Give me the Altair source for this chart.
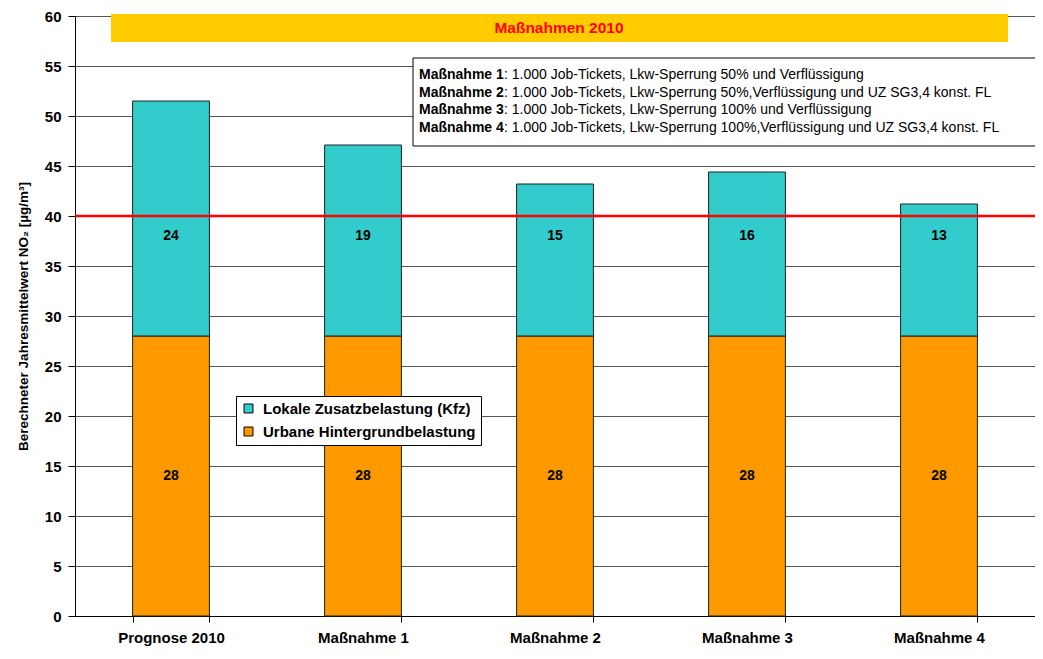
import altair as alt
import pandas as pd

categories = ["Prognose 2010", "Maßnahme 1", "Maßnahme 2", "Maßnahme 3", "Maßnahme 4"]
urbane = [28, 28, 28, 28, 28]
lokale = [23.5, 19.1, 15.2, 16.4, 13.2]
series_names = ["Lokale Zusatzbelastung (Kfz)", "Urbane Hintergrundbelastung"]
series_colors = ["#33CCCC", "#FF9900"]
y_ticks = [0, 5, 10, 15, 20, 25, 30, 35, 40, 45, 50, 55, 60]
limit_value = [40]
banner_title = ["Maßnahmen 2010"]
note_heads = ["Maßnahme 1", "Maßnahme 2", "Maßnahme 3", "Maßnahme 4"]
note_texts = [
    ": 1.000 Job-Tickets, Lkw-Sperrung 50% und Verflüssigung",
    ": 1.000 Job-Tickets, Lkw-Sperrung 50%,Verflüssigung und UZ SG3,4 konst. FL",
    ": 1.000 Job-Tickets, Lkw-Sperrung 100% und Verflüssigung",
    ": 1.000 Job-Tickets, Lkw-Sperrung 100%,Verflüssigung und UZ SG3,4 konst. FL",
]

FONT = "Liberation Sans"

rows = []
for c, u, l in zip(categories, urbane, lokale):
    rows.append({"category": c, "series": series_names[1], "value": u, "ord": 0})
    rows.append({"category": c, "series": series_names[0], "value": l, "ord": 1})
bars_df = pd.DataFrame(rows)

lab_u = pd.DataFrame({"category": categories, "mid": [u / 2 for u in urbane],
                      "label": [f"{u:.0f}" for u in urbane]})
lab_l = pd.DataFrame({"category": categories, "label": [f"{l:.0f}" for l in lokale]})

x_enc = alt.X("category:N", sort=categories,
              scale=alt.Scale(paddingInner=0.6, paddingOuter=0.3),
              axis=alt.Axis(title=None, labelAngle=0, tickBand="extent",
                            labelFontSize=15, labelFontWeight="bold", labelColor="black",
                            labelFont=FONT, domainColor="black", tickColor="black",
                            tickSize=6, labelPadding=8, grid=False))
y_scale = alt.Scale(domain=[0, 60], nice=False)

bars = alt.Chart(bars_df).mark_bar(stroke="#222222", strokeWidth=1).encode(
    x=x_enc,
    y=alt.Y("value:Q", stack="zero", scale=y_scale,
            axis=alt.Axis(values=y_ticks, title="Berechneter Jahresmittelwert NO₂ [µg/m³]",
                          titleFontSize=13.5, titleFontWeight="bold", titleFont=FONT,
                          titleColor="black", titlePadding=14,
                          labelFontSize=15, labelFontWeight="bold", labelFont=FONT,
                          labelColor="black", labelPadding=7, tickSize=7,
                          tickColor="black", domainColor="black",
                          grid=True, gridColor="#555555", gridWidth=1)),
    color=alt.Color("series:N", scale=alt.Scale(domain=series_names, range=series_colors),
                    legend=alt.Legend(orient="none", legendX=161, legendY=380, title=None,
                                      fillColor="white", strokeColor="black", padding=5,
                                      symbolType="square", symbolSize=80,
                                      symbolStrokeColor="black", symbolStrokeWidth=1,
                                      labelFontSize=15, labelFontWeight="bold",
                                      labelFont=FONT, labelColor="black", labelLimit=400,
                                      rowPadding=7, labelOffset=7)),
    order=alt.Order("ord:Q"),
)

rule = alt.Chart(pd.DataFrame({"limit": limit_value})).mark_rule(
    color="#FF0000", strokeWidth=2.5).encode(y=alt.Y("limit:Q", scale=y_scale))

text_u = alt.Chart(lab_u).mark_text(fontSize=14, fontWeight="bold", font=FONT,
                                    color="black").encode(
    x=alt.X("category:N", sort=categories), y=alt.Y("mid:Q", scale=y_scale), text="label:N")
text_l = alt.Chart(lab_l).mark_text(fontSize=14, fontWeight="bold", font=FONT,
                                    color="black").encode(
    x=alt.X("category:N", sort=categories), y=alt.datum(38), text="label:N")

banner_df = pd.DataFrame({"t": banner_title})
banner = alt.Chart(banner_df).mark_rect(color="#FFCC00").encode(
    x=alt.value(36), x2=alt.value(933), y=alt.value(-2), y2=alt.value(26))
banner_text = alt.Chart(banner_df).mark_text(
    color="#FF0000", fontSize=15.5, fontWeight="bold",
    font=FONT, baseline="middle").encode(
    x=alt.value(484), y=alt.value(12), text="t:N")

box = alt.Chart(pd.DataFrame({"b": [1]})).mark_rect(
    fill="white", stroke="black", strokeWidth=1).encode(
    x=alt.value(338), x2=alt.value(1000), y=alt.value(42), y2=alt.value(130))

note_layers = []
line_y = [59, 76.5, 94, 111.5]
for i, (h, t) in enumerate(zip(note_heads, note_texts)):
    d = pd.DataFrame({"h": [h], "t": [t]})
    note_layers.append(alt.Chart(d).mark_text(
        fontSize=14, fontWeight="bold", font=FONT, align="left", baseline="middle",
        color="black").encode(x=alt.value(344), y=alt.value(line_y[i]), text="h:N"))
    note_layers.append(alt.Chart(d).mark_text(
        fontSize=14, font=FONT, align="left", baseline="middle",
        color="black").encode(x=alt.value(429), y=alt.value(line_y[i]), text="t:N"))

chart = alt.layer(bars, rule, text_u, text_l, banner, banner_text, box, *note_layers).properties(
    width=960, height=600,
    autosize=alt.AutoSizeParams(type="none"),
    padding={"left": 67, "top": 8, "right": 0, "bottom": 34},
).configure_view(stroke=None).configure(background="white")

chart.save("out.html", embed_options={"renderer": "svg", "actions": False})
